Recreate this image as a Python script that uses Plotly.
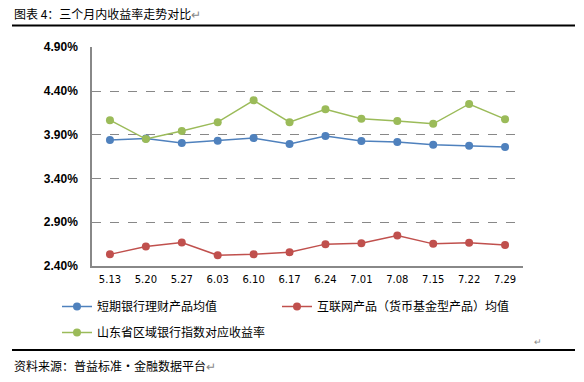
import plotly.graph_objects as go

dates = ["5.13", "5.20", "5.27", "6.03", "6.10", "6.17", "6.24", "7.01", "7.08", "7.15", "7.22", "7.29"]
bank_short = [3.840, 3.858, 3.806, 3.832, 3.862, 3.794, 3.885, 3.828, 3.817, 3.786, 3.775, 3.760]
internet_fund = [2.533, 2.624, 2.669, 2.522, 2.533, 2.556, 2.650, 2.661, 2.749, 2.653, 2.665, 2.639]
shandong_index = [4.067, 3.851, 3.942, 4.044, 4.294, 4.044, 4.192, 4.082, 4.056, 4.025, 4.252, 4.078]
y_ticks = [2.40, 2.90, 3.40, 3.90, 4.40, 4.90]

series = [
    ("短期银行理财产品均值", bank_short, "#4F81BD", "legend", "a"),
    ("互联网产品（货币基金型产品）均值", internet_fund, "#C0504D", "legend2", "b"),
    ("山东省区域银行指数对应收益率", shandong_index, "#9BBB59", "legend", "c"),
]

CJK = "Noto Sans CJK SC"

fig = go.Figure()
for name, vals, col, lg, grp in series:
    fig.add_trace(go.Scatter(
        x=list(range(len(dates))), y=vals, name=name, mode="lines+markers",
        line=dict(color=col, width=1.5),
        marker=dict(color=col, size=8),
        legend=lg, legendgroup=grp,
    ))

W, H = 584, 382
PL, PT, PW, PH = 92, 47, 431, 219

leg_common = dict(
    orientation="v", yanchor="top", xanchor="left",
    font=dict(family=CJK, size=12, color="black"),
    itemwidth=30, tracegroupgap=7, bgcolor="rgba(0,0,0,0)",
)

fig.update_layout(
    width=W, height=H,
    margin=dict(l=PL, r=W - PL - PW, t=PT, b=H - PT - PH, autoexpand=False),
    paper_bgcolor="white", plot_bgcolor="white",
    font=dict(family=CJK, size=12, color="black"),
    showlegend=True,
    legend=dict(x=(57 - 92) / PW, y=-(292 - 266) / PH, **leg_common),
    legend2=dict(x=(277 - 92) / PW, y=-(292 - 266) / PH, **leg_common),
    xaxis=dict(
        tickmode="array", tickvals=list(range(len(dates))), ticktext=dates,
        range=[-0.5, len(dates) - 0.5],
        showgrid=False, zeroline=False,
        showline=True, linecolor="#888888", linewidth=1.5,
        ticks="", ticklabelstandoff=3,
        tickfont=dict(family="DejaVu Sans", size=10, color="black"),
    ),
    yaxis=dict(
        range=[2.40, 4.903], tickmode="array", tickvals=y_ticks,
        ticktext=["%.2f%%" % v for v in y_ticks],
        showgrid=True, gridcolor="#888888", griddash="dash", gridwidth=1,
        zeroline=False, showline=True, linecolor="#888888", linewidth=1.5,
        ticks="", ticklabelstandoff=10,
        tickfont=dict(family="Liberation Sans", size=12, color="black", weight="bold"),
    ),
)

# caption rule and source-note rule as thin filled rectangles
for yc in (1 + 21.5 / PH, -84 / PH):
    fig.add_shape(type="rect", xref="paper", yref="paper", layer="above",
                  x0=-80 / PW, x1=483 / PW, y0=yc - 1 / PH, y1=yc + 1 / PH,
                  fillcolor="#000000", line=dict(width=0))

fig.add_annotation(xref="paper", yref="paper", x=-80/PW, y=1 + 34/PH, xanchor="left", yanchor="middle",
                   text="图表 4：三个月内收益率走势对比<span style='color:#888'>↵</span>",
                   showarrow=False, font=dict(family=CJK, size=12, color="black"))
fig.add_annotation(xref="paper", yref="paper", x=-80/PW, y=-99/PH, xanchor="left", yanchor="middle",
                   text="资料来源：普益标准·金融数据平台<span style='color:#888'>↵</span>",
                   showarrow=False, font=dict(family=CJK, size=12, color="black"))
fig.add_annotation(xref="paper", yref="paper", x=446/PW, y=-75/PH, xanchor="center", yanchor="middle",
                   text="↵", showarrow=False, font=dict(family=CJK, size=9, color="#888888"))

fig.write_html("out.html", config={"displayModeBar": False},
               post_script="document.body.style.margin='0px';")
